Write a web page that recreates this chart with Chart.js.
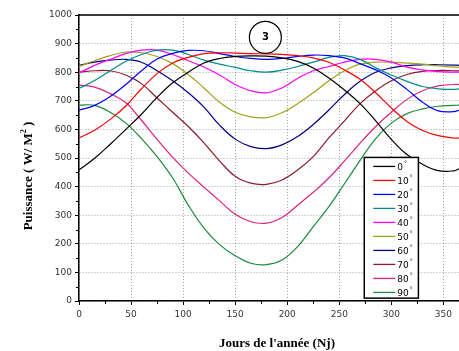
<!DOCTYPE html>
<html>
<head>
<meta charset="utf-8">
<script src="https://cdn.jsdelivr.net/npm/chart.js@4/dist/chart.umd.min.js"></script>
<style>
  html, body { margin: 0; padding: 0; background: #fff; }
  #puissance { display: block; }
</style>
</head>
<body>
<canvas id="puissance" width="459" height="351"></canvas>
<script>
// jours de l'annee (Nj) et puissance (W/m2) pour chaque inclinaison
const jours = [0, 15, 30, 45, 60, 75, 90, 105, 120, 135, 150, 165, 180, 195, 210, 225, 240, 255, 270, 285, 300, 315, 330, 345, 360, 365];

const p0  = [458, 499, 548, 600, 653, 712, 763, 800, 832, 848, 855, 857, 856, 850, 838, 815, 780, 738, 690, 630, 565, 512, 478, 456, 455, 462];
const p10 = [570, 597, 635, 682, 742, 795, 832, 852, 865, 868, 867, 865, 864, 862, 858, 850, 835, 808, 775, 728, 675, 628, 596, 578, 570, 570];
const p20 = [667, 684, 715, 757, 805, 846, 866, 876, 875, 865, 855, 848, 845, 848, 855, 860, 858, 850, 830, 808, 780, 740, 695, 665, 662, 667];
const p30 = [743, 771, 805, 838, 862, 877, 877, 862, 842, 828, 817, 805, 800, 807, 820, 835, 852, 858, 845, 815, 790, 768, 750, 742, 740, 742];
const p40 = [797, 824, 845, 865, 877, 877, 862, 840, 818, 790, 757, 735, 728, 745, 778, 805, 820, 835, 845, 845, 835, 818, 808, 802, 800, 800];
const p50 = [820, 840, 858, 870, 868, 855, 830, 792, 745, 695, 660, 644, 641, 658, 690, 728, 770, 805, 828, 835, 835, 832, 828, 822, 818, 818];
const p60 = [824, 835, 842, 845, 835, 805, 770, 728, 678, 615, 566, 540, 533, 546, 575, 617, 668, 722, 768, 800, 815, 823, 826, 826, 825, 824];
const p70 = [800, 805, 805, 790, 760, 710, 660, 610, 553, 490, 436, 412, 408, 423, 458, 505, 570, 630, 690, 735, 770, 792, 803, 806, 805, 805];
const p80 = [755, 748, 725, 693, 632, 565, 502, 447, 398, 350, 303, 277, 272, 292, 335, 380, 430, 490, 552, 610, 660, 705, 735, 752, 757, 757];
const p90 = [685, 684, 660, 622, 568, 505, 430, 335, 255, 197, 158, 132, 127, 143, 190, 260, 330, 410, 492, 568, 622, 655, 672, 681, 684, 685];

const inclinaisons = ['0', '10', '20', '30', '40', '50', '60', '70', '80', '90'];
const series = [p0, p10, p20, p30, p40, p50, p60, p70, p80, p90];
const couleurs = ['#000000', '#ff0000', '#0000ff', '#008b8b', '#ff00ff', '#a3a31a', '#000080', '#8b1a2a', '#e0207e', '#1e8a3a'];

const yTicks = [0, 100, 200, 300, 400, 500, 600, 700, 800, 900, 1000];

// decorations : cadre du haut, petites graduations, cercle "3", legende, titres
const decor = {
    id: 'decor',
    afterDraw(chart) {
        const c = chart.ctx;
        const a = chart.chartArea;
        const sx = chart.scales.x;
        const sy = chart.scales.y;
        c.save();

        // cadre haut
        c.strokeStyle = '#000';
        c.lineWidth = 1.5;
        c.beginPath();
        c.moveTo(a.left, a.top);
        c.lineTo(a.right, a.top);
        c.stroke();

        // graduations secondaires
        c.lineWidth = 1;
        c.beginPath();
        for (let v = 25; v < 365; v += 50) {
            const px = Math.round(sx.getPixelForValue(v)) + 0.5;
            c.moveTo(px, a.bottom);
            c.lineTo(px, a.bottom + 3);
        }
        for (let v = 50; v < 1000; v += 100) {
            const py = Math.round(sy.getPixelForValue(v)) + 0.5;
            c.moveTo(a.left, py);
            c.lineTo(a.left - 3, py);
        }
        c.stroke();

        // cercle "3"
        const cx = sx.getPixelForValue(179);
        const cy = sy.getPixelForValue(922);
        c.lineWidth = 1.2;
        c.beginPath();
        c.arc(cx, cy, 16, 0, Math.PI * 2);
        c.stroke();
        c.fillStyle = '#000';
        c.font = 'bold 10px "DejaVu Sans"';
        c.textAlign = 'center';
        c.textBaseline = 'middle';
        c.fillText('3', cx, cy);

        // legende
        const lx = sx.getPixelForValue(274);
        const rx = sx.getPixelForValue(326);
        const ty = sy.getPixelForValue(502);
        const by = sy.getPixelForValue(10);
        c.fillStyle = '#fff';
        c.fillRect(lx, ty, rx - lx, by - ty);
        c.strokeStyle = '#000';
        c.lineWidth = 1.5;
        c.strokeRect(lx, ty, rx - lx, by - ty);
        c.textAlign = 'left';
        chart.data.datasets.forEach((ds, i) => {
            const yy = ty + 9 + i * 14;
            c.strokeStyle = ds.borderColor;
            c.lineWidth = 1.3;
            c.beginPath();
            c.moveTo(lx + 9, yy);
            c.lineTo(lx + 31, yy);
            c.stroke();
            c.fillStyle = '#000';
            c.font = '9px "DejaVu Sans"';
            c.fillText(ds.label, lx + 33, yy + 1);
            const w = c.measureText(ds.label).width;
            c.font = '6px "DejaVu Sans"';
            c.fillText('°', lx + 34 + w, yy - 3);
        });

        // titres des axes
        c.fillStyle = '#000';
        c.font = 'bold 13px "Liberation Serif"';
        c.textAlign = 'center';
        c.textBaseline = 'alphabetic';
        c.fillText("Jours de l'année (Nj)", 277, 347);

        c.translate(32, 176);
        c.rotate(-Math.PI / 2);
        const t1 = 'Puissance ( W/ M';
        const t2 = ' )';
        c.font = 'bold 13px "Liberation Serif"';
        const w1 = c.measureText(t1).width;
        const w2 = c.measureText(t2).width;
        c.font = 'bold 8px "Liberation Serif"';
        const ws = c.measureText('2').width;
        let x0 = -(w1 + ws + w2) / 2;
        c.textAlign = 'left';
        c.font = 'bold 13px "Liberation Serif"';
        c.fillText(t1, x0, 0);
        c.font = 'bold 8px "Liberation Serif"';
        c.fillText('2', x0 + w1, -6);
        c.font = 'bold 13px "Liberation Serif"';
        c.fillText(t2, x0 + w1 + ws, 0);

        c.restore();
    }
};

const ctx = document.getElementById('puissance').getContext('2d');
new Chart(ctx, {
    type: 'line',
    data: {
        datasets: series.map((s, i) => ({
            label: inclinaisons[i],
            data: jours.map((j, k) => ({ x: j, y: s[k] })),
            borderColor: couleurs[i],
            backgroundColor: couleurs[i],
            borderWidth: 1.2,
            pointRadius: 0,
            tension: 0.4,
            fill: false
        }))
    },
    options: {
        responsive: false,
        animation: false,
        layout: { padding: { top: 15, right: 0, left: 0, bottom: 0 } },
        plugins: {
            legend: { display: false },
            tooltip: { enabled: false }
        },
        scales: {
            x: {
                type: 'linear',
                min: 0,
                max: 365,
                afterFit: s => { s.height = 50; },
                ticks: {
                    stepSize: 50,
                    includeBounds: false,
                    maxRotation: 0,
                    padding: 4,
                    color: '#333',
                    font: { family: 'DejaVu Sans', size: 9 }
                },
                grid: { color: 'rgba(0,0,0,0.35)', tickColor: '#000', tickLength: 4, tickBorderDash: [] },
                border: { color: '#000', width: 1.5, dash: [1, 2] }
            },
            y: {
                min: 0,
                max: 1000,
                afterFit: s => { s.width = 79; },
                afterBuildTicks: s => { s.ticks = yTicks.map(v => ({ value: v })); },
                ticks: {
                    padding: 3,
                    color: '#333',
                    font: { family: 'DejaVu Sans', size: 9 },
                    callback: v => String(v)
                },
                grid: { color: 'rgba(0,0,0,0.35)', tickColor: '#000', tickLength: 4, tickBorderDash: [] },
                border: { color: '#000', width: 1.5, dash: [1, 2] }
            }
        }
    },
    plugins: [decor]
});
</script>
</body>
</html>
